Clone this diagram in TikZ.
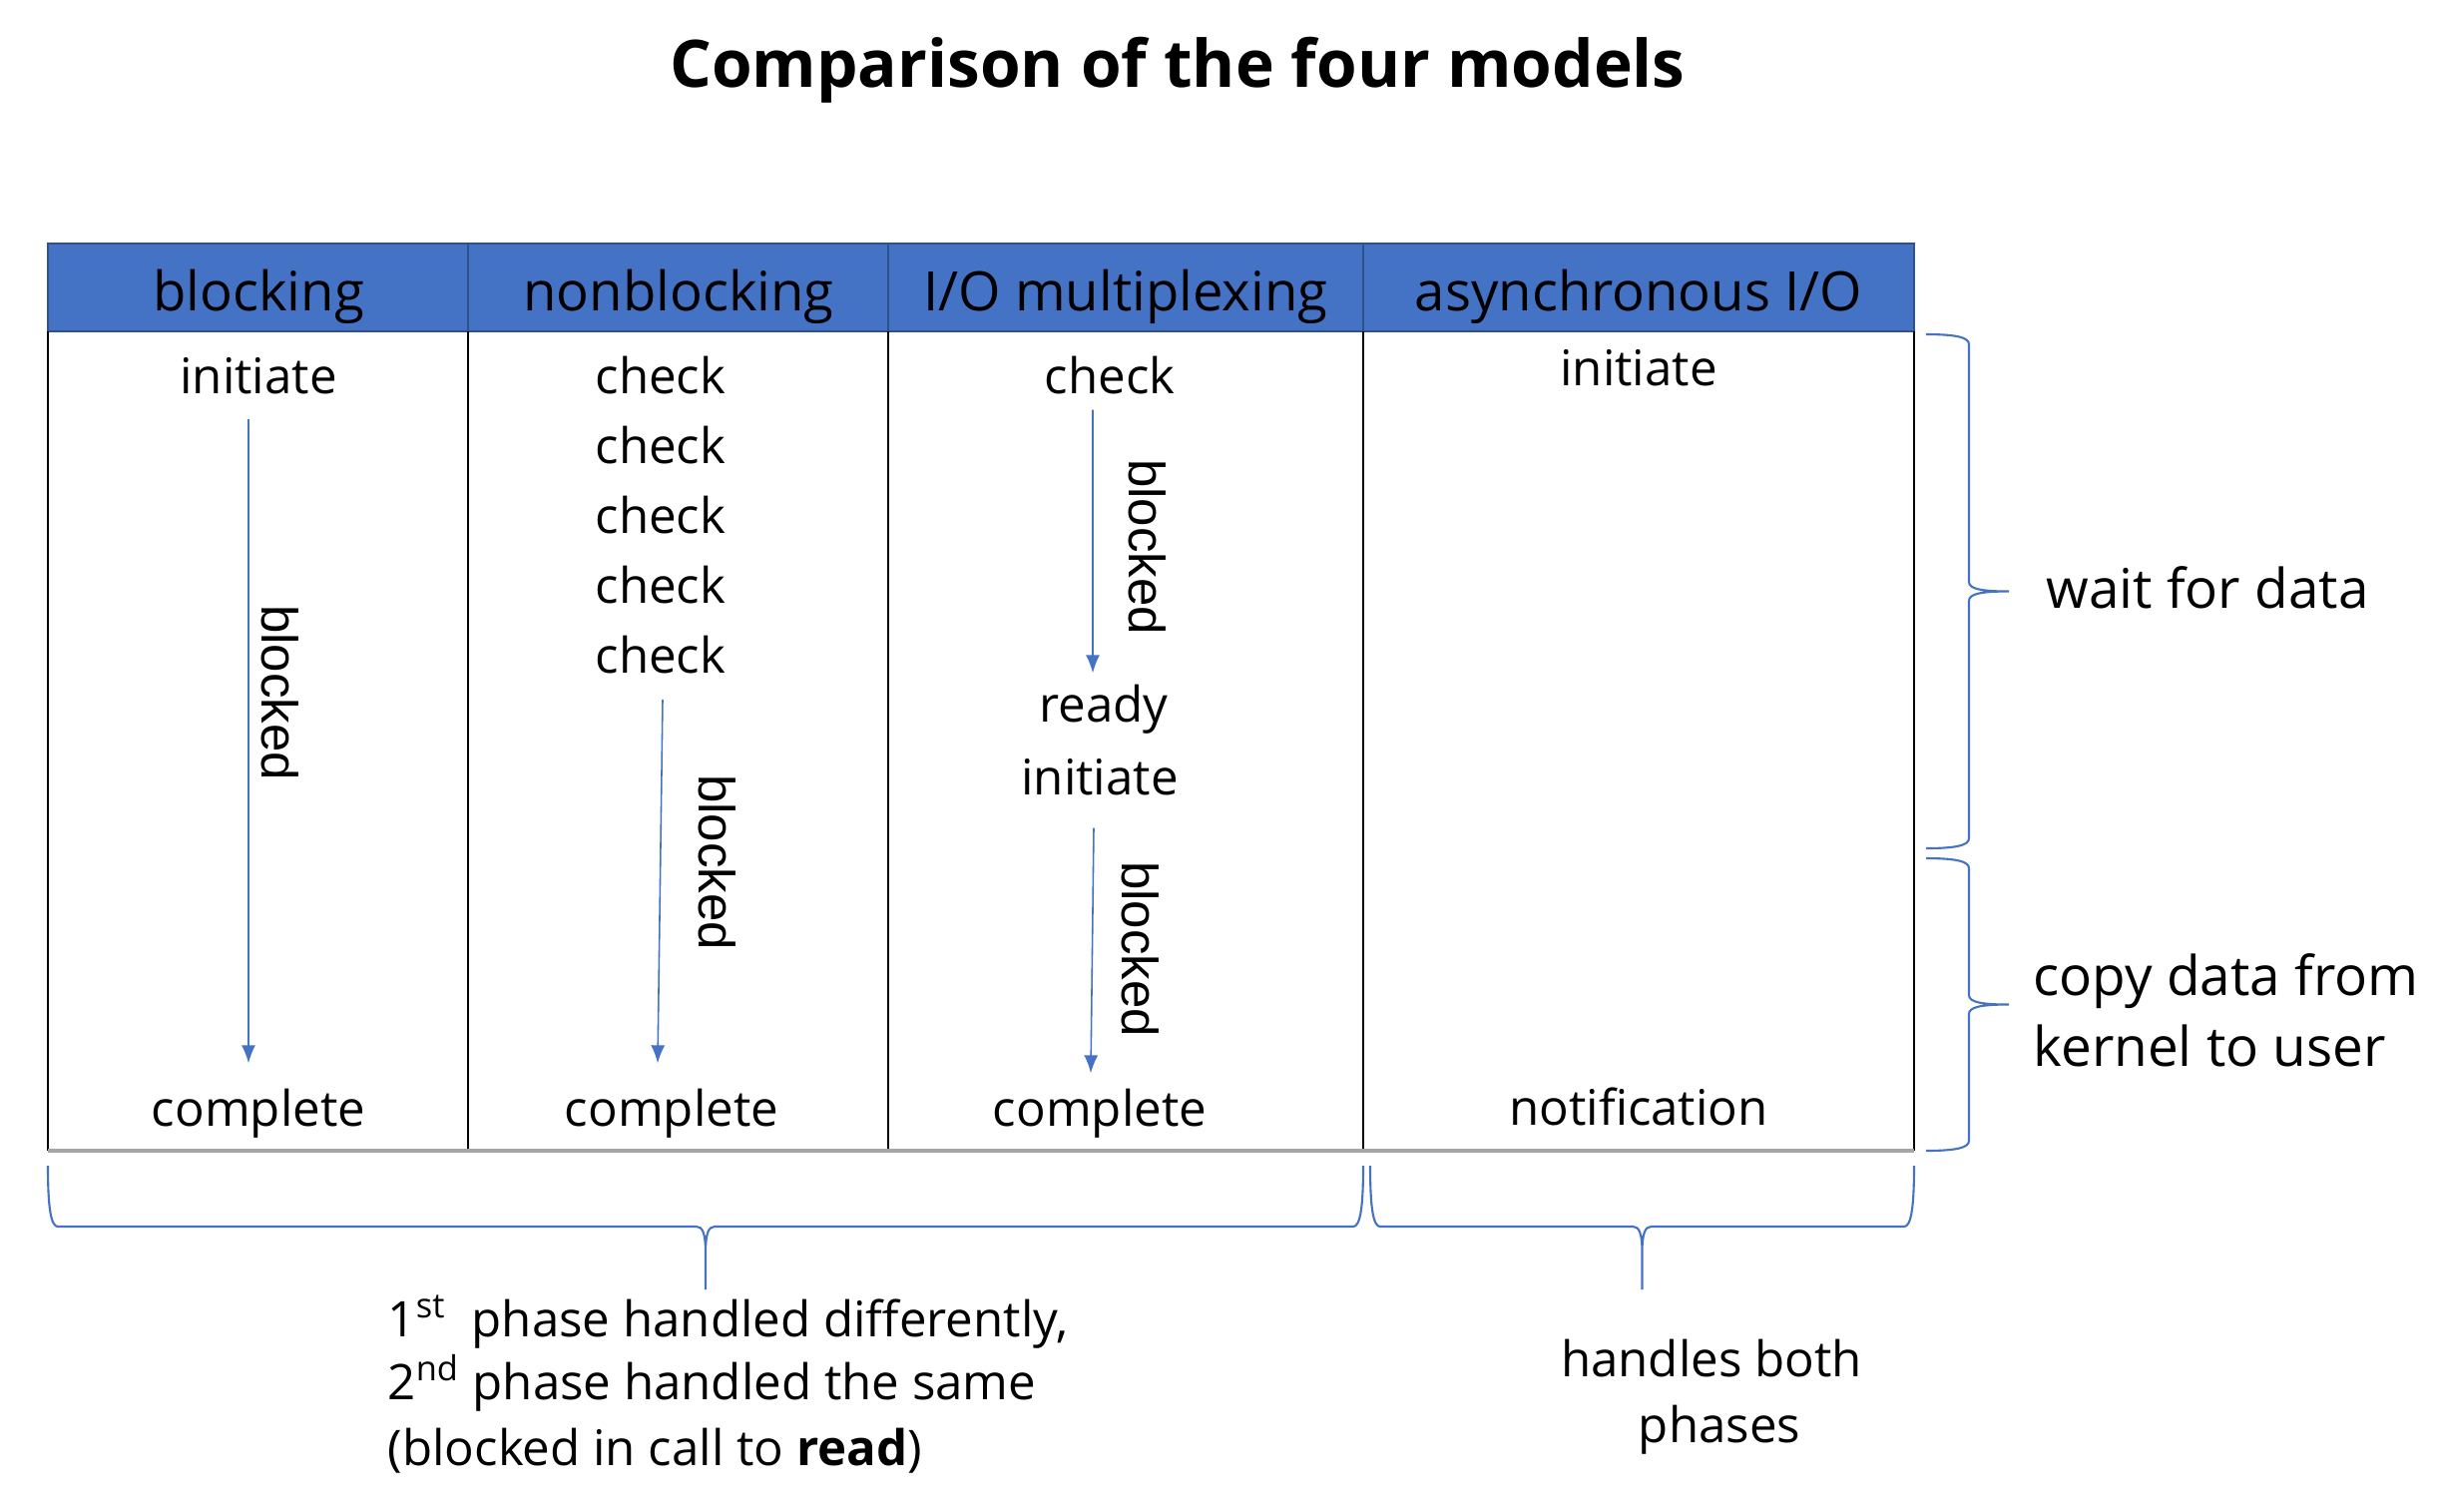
\documentclass[tikz,border=0pt]{standalone}
\usepackage{fontspec}
\setmainfont{Open Sans}
\newfontfamily\arialfont{Liberation Sans}
\usetikzlibrary{arrows.meta,positioning}
\definecolor{hdrblue}{HTML}{4472C4}
\definecolor{hdredge}{HTML}{2F528F}
\definecolor{rulegray}{HTML}{A5A5A5}
\tikzset{
  title/.style={font=\fontsize{18.7}{22}\selectfont\bfseries, anchor=base},
  hdr/.style={fill=hdrblue, draw=hdredge, line width=0.7pt},
  hdrtext/.style={font=\fontsize{15.5}{18}\selectfont, anchor=base},
  grid/.style={draw=black, line width=0.5pt},
  bottomrule/.style={draw=rulegray, line width=0.9pt},
  cell/.style={font=\fontsize{14}{17}\selectfont, inner sep=0.05cm, text height=0.37cm, text depth=0.10cm},
  blk/.style={font=\arialfont\fontsize{14.5}{17}\selectfont, rotate=-90, inner sep=0pt},
  flow/.style={draw=hdrblue, line width=0.45pt, -{Latex[length=0.18cm, width=0.14cm]}},
  curly/.style={draw=hdrblue, line width=0.6pt},
  side/.style={font=\fontsize{15.6}{18}\selectfont, anchor=base west, inner sep=0pt},
  note/.style={font=\fontsize{14}{17}\selectfont, inner sep=0pt}
}
\begin{document}
\begin{tikzpicture}
\useasboundingbox (0,0) rectangle (24.44,-15.14);
\node[title] (title) at (11.80,-0.87) {Comparison of the four models};
% header row
\draw[hdr] (0.48,-2.44) rectangle (19.18,-3.32);
\draw[hdr] (4.69,-2.44)--(4.69,-3.32) (8.90,-2.44)--(8.90,-3.32) (13.66,-2.44)--(13.66,-3.32);
\node[hdrtext] (hblk) at (2.59,-3.11) {blocking};
\node[hdrtext] (hnon) at (6.80,-3.11) {nonblocking};
\node[hdrtext] (hmux) at (11.28,-3.11) {I/O multiplexing};
\node[hdrtext] (haio) at (16.42,-3.11) {asynchronous I/O};
% body
\draw[grid] (0.48,-3.32)--(0.48,-11.53) (4.69,-3.32)--(4.69,-11.53)
(8.90,-3.32)--(8.90,-11.53) (13.66,-3.32)--(13.66,-11.53) (19.18,-3.32)--(19.18,-11.53);
\draw[bottomrule] (0.48,-11.53)--(19.18,-11.53);
% blocking
\node[cell, anchor=base] (init1) at (2.59,-3.94) {initiate};
\node[cell, anchor=base] (comp1) at (2.59,-11.28) {complete};
\draw[flow] ([xshift=-0.10cm,yshift=-0.10cm]init1.south) -- ([xshift=-0.10cm,yshift=0.20cm]comp1.north);
\node[blk] (blk1) at (2.81,-6.94) {blocked};
% nonblocking
\node[cell, anchor=base] (chk1) at (6.62,-3.94) {check};
\node[cell, below=0.117cm of chk1] (chk2) {check};
\node[cell, below=0.117cm of chk2] (chk3) {check};
\node[cell, below=0.117cm of chk3] (chk4) {check};
\node[cell, below=0.117cm of chk4] (chk5) {check};
\node[cell, anchor=base] (comp2) at (6.73,-11.28) {complete};
\draw[flow] ([xshift=0.02cm,yshift=-0.11cm]chk5.south) -- ([xshift=-0.14cm,yshift=0.20cm]comp2.north);
\node[blk] (blk2) at (7.19,-8.64) {blocked};
% I/O multiplexing
\node[cell, anchor=base] (chk6) at (11.12,-3.94) {check};
\node[cell, anchor=base] (ready) at (11.06,-7.23) {ready};
\node[cell, anchor=base] (init3) at (11.02,-7.96) {initiate};
\node[cell, anchor=base] (comp3) at (11.02,-11.28) {complete};
\draw[flow] ([xshift=-0.17cm,yshift=-0.01cm]chk6.south) -- ([xshift=-0.11cm,yshift=0.06cm]ready.north);
\draw[flow] ([xshift=-0.06cm,yshift=-0.18cm]init3.south) -- ([xshift=-0.09cm,yshift=0.10cm]comp3.north);
\node[blk] (blk3) at (11.50,-5.48) {blocked};
\node[blk] (blk4) at (11.43,-9.51) {blocked};
% asynchronous I/O
\node[cell, anchor=base] (init4) at (16.42,-3.86) {initiate};
\node[cell, anchor=base] (notif) at (16.42,-11.27) {notification};
% right braces
\draw[curly] (19.30,-3.35) .. controls (19.60,-3.35) and (19.73,-3.38) .. (19.73,-3.45) -- (19.73,-5.83)
.. controls (19.73,-5.90) and (19.85,-5.925) .. (20.13,-5.925) .. controls (19.85,-5.925) and (19.73,-5.95) .. (19.73,-6.02)
-- (19.73,-8.40) .. controls (19.73,-8.47) and (19.60,-8.50) .. (19.30,-8.50);
\draw[curly] (19.30,-8.60) .. controls (19.60,-8.60) and (19.73,-8.63) .. (19.73,-8.70) -- (19.73,-9.97)
.. controls (19.73,-10.04) and (19.85,-10.065) .. (20.13,-10.065) .. controls (19.85,-10.065) and (19.73,-10.09) .. (19.73,-10.16)
-- (19.73,-11.43) .. controls (19.73,-11.50) and (19.60,-11.53) .. (19.30,-11.53);
\node[side] (wait) at (20.50,-6.09) {wait for data};
\node[side] (copy1) at (20.37,-9.97) {copy data from};
\node[side] (copy2) at (20.37,-10.68) {kernel to user};
% bottom braces
\draw[curly] (0.48,-11.68) .. controls (0.48,-12.10) and (0.51,-12.29) .. (0.58,-12.29) -- (6.98,-12.29)
.. controls (7.04,-12.29) and (7.07,-12.36) .. (7.07,-12.55) -- (7.07,-12.92) -- (7.07,-12.55)
.. controls (7.07,-12.36) and (7.10,-12.29) .. (7.16,-12.29) -- (13.56,-12.29)
.. controls (13.63,-12.29) and (13.66,-12.10) .. (13.66,-11.68);
\draw[curly] (13.73,-11.68) .. controls (13.73,-12.10) and (13.76,-12.29) .. (13.83,-12.29) -- (16.365,-12.29)
.. controls (16.425,-12.29) and (16.455,-12.36) .. (16.455,-12.55) -- (16.455,-12.92) -- (16.455,-12.55)
.. controls (16.455,-12.36) and (16.485,-12.29) .. (16.545,-12.29) -- (19.08,-12.29)
.. controls (19.15,-12.29) and (19.18,-12.10) .. (19.18,-11.68);
\node[note, anchor=base west] (note1) at (3.88,-13.39) {1\textsuperscript{st}\ \ phase handled differently,};
\node[note, anchor=base west] (note2) at (3.88,-14.02) {2\textsuperscript{nd} phase handled the same};
\node[note, anchor=base west] (note3) at (3.88,-14.68) {(blocked in call to \textbf{read})};
\node[note, anchor=base] (both1) at (17.15,-13.79) {handles both};
\node[note, anchor=base] (both2) at (17.23,-14.45) {phases};
\end{tikzpicture}
\end{document}
